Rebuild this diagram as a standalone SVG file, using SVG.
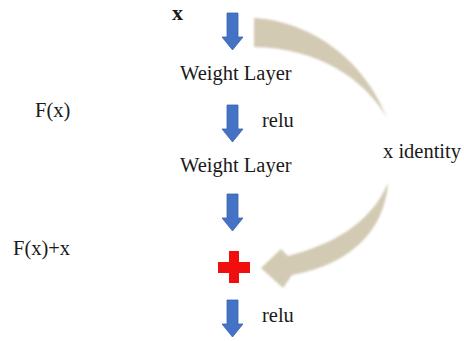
<svg xmlns="http://www.w3.org/2000/svg" width="464" height="341" viewBox="0 0 464 341">
  <style>
    .t { font-family: "Liberation Serif", "Times New Roman", serif; font-size: 20.5px; fill: #1a1a1a; }
    .b { font-weight: bold; font-size: 22px; }
    .blue { fill: #4472C4; stroke: #3A64AE; stroke-width: 0.8; }
    .tan { fill: #D3CAB4; filter: url(#soft); }
    .red { fill: #F00E0E; }
  </style>
  <defs>
    <filter id="soft" x="-10%" y="-10%" width="120%" height="120%">
      <feGaussianBlur stdDeviation="1"/>
    </filter>
    <path id="down" d="M -5.5 0 H 5.5 V 24 H 10.5 L 0 37 L -10.5 24 H -5.5 Z"/>
  </defs>
  <rect width="464" height="341" fill="#ffffff"/>

  <g id="input-x"><text class="t b" x="172" y="20">x</text></g>
  <g id="weight-layer-1"><text class="t" x="180" y="80">Weight Layer</text></g>
  <g id="weight-layer-2"><text class="t" x="180" y="172">Weight Layer</text></g>
  <g id="add">
    <rect class="red" x="218" y="262" width="32" height="11"/>
    <rect class="red" x="229" y="251" width="10" height="32"/>
  </g>
  <g id="label-fx"><text class="t" x="35" y="117">F(x)</text></g>
  <g id="label-fxx"><text class="t" x="13" y="255">F(x)+x</text></g>
  <g id="label-identity"><text class="t" x="383" y="158">x identity</text></g>
  <g id="label-relu-1"><text class="t" x="262" y="127">relu</text></g>
  <g id="label-relu-2"><text class="t" x="262" y="322">relu</text></g>

  <g id="connectors">
    <use href="#down" class="blue" x="232.5" y="13"/>
    <use href="#down" class="blue" x="232.5" y="105"/>
    <use href="#down" class="blue" x="232.5" y="194"/>
    <use href="#down" class="blue" x="232.5" y="300"/>
    <path class="tan" d="M 254 18 C 300 20 360 50 387 118 C 365 80 320 48 254 47 Z"/>
    <path class="tan" d="M 388 183 C 385 230 350 265 292 275 L 283 288 L 261 268 L 281 249 L 288 256 C 330 245 370 225 388 183 Z"/>
  </g>
</svg>
